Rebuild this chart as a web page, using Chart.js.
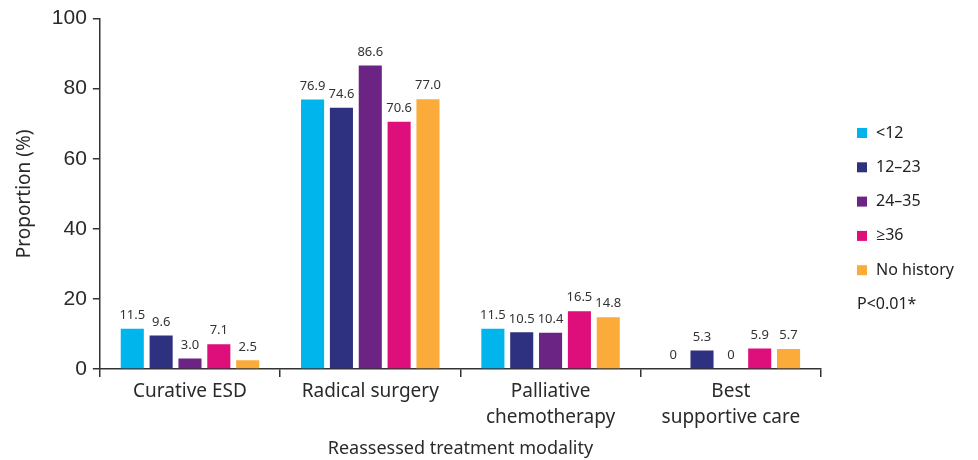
<!DOCTYPE html>
<html>
<head>
<meta charset="utf-8">
<script src="https://cdn.jsdelivr.net/npm/chart.js@4"></script>
<style>
  html, body { margin: 0; padding: 0; background: #fff; }
  #wrap { position: relative; width: 978px; height: 460px; }
</style>
</head>
<body>
<div id="wrap"><canvas id="chart" width="978" height="460"></canvas></div>
<script>
// Treatment categories (x axis)
const categories = [
  "Curative ESD",
  "Radical surgery",
  ["Palliative", "chemotherapy"],
  ["Best", "supportive care"]
];

// Interval groups (months) with their proportions per category
const groups = ["<12", "12\u201323", "24\u201335", "\u226536", "No history"];
const lt12 = [11.5, 76.9, 11.5, 0];
const m12to23 = [9.6, 74.6, 10.5, 5.3];
const m24to35 = [3.0, 86.6, 10.4, 0];
const ge36 = [7.1, 70.6, 16.5, 5.9];
const noHistory = [2.5, 77.0, 14.8, 5.7];

const yTicks = [0, 20, 40, 60, 80, 100];
const pValueText = "P<0.01*";

const colors = ["#00b5eb", "#2e3180", "#6b2384", "#de0e7a", "#fbab3a"];
const seriesValues = [lt12, m12to23, m24to35, ge36, noHistory];

const fontMain = "'Noto Sans', 'Open Sans', sans-serif";
const fontNum = "'Liberation Sans', Arial, sans-serif";

// Value labels above each bar
const barLabels = {
  id: "barLabels",
  afterDatasetsDraw(chart) {
    const ctx = chart.ctx;
    ctx.save();
    ctx.font = "13px " + fontMain;
    ctx.fillStyle = "#333";
    ctx.textAlign = "center";
    ctx.textBaseline = "bottom";
    chart.data.datasets.forEach((ds, i) => {
      const meta = chart.getDatasetMeta(i);
      meta.data.forEach((bar, j) => {
        const v = ds.data[j];
        const txt = v === 0 ? "0" : v.toFixed(1);
        ctx.fillText(txt, bar.x, bar.y - 7);
      });
    });
    ctx.restore();
  }
};

// Legend on the right plus the p-value note
const sideLegend = {
  id: "sideLegend",
  afterDraw(chart) {
    const ctx = chart.ctx;
    const x0 = chart.chartArea.right + 36;
    const y0 = 133;
    const step = 34.3;
    ctx.save();
    ctx.font = "16px " + fontMain;
    ctx.textBaseline = "middle";
    ctx.textAlign = "left";
    chart.data.datasets.forEach((ds, i) => {
      const y = y0 + i * step;
      ctx.fillStyle = ds.backgroundColor;
      ctx.fillRect(x0, y - 5, 10, 10);
      ctx.fillStyle = "#222";
      ctx.fillText(ds.label, x0 + 19, y);
    });
    ctx.fillText(pValueText, x0, y0 + groups.length * step);
    ctx.restore();
  }
};

new Chart(document.getElementById("chart"), {
  type: "bar",
  data: {
    labels: categories,
    datasets: groups.map((g, i) => ({
      label: g,
      data: seriesValues[i],
      backgroundColor: colors[i],
      borderWidth: 0,
      categoryPercentage: 0.8,
      barPercentage: 0.8
    }))
  },
  plugins: [barLabels, sideLegend],
  options: {
    responsive: false,
    animation: false,
    layout: { padding: { top: 12, right: 157, left: 9, bottom: 0 } },
    plugins: {
      legend: { display: false },
      tooltip: { enabled: false }
    },
    scales: {
      x: {
        offset: true,
        grid: {
          offset: true,
          drawOnChartArea: false,
          drawTicks: true,
          tickLength: 8,
          color: "#333",
          lineWidth: 1.5
        },
        border: { color: "#333", width: 1.5 },
        ticks: {
          color: "#2a2a2a",
          font: { family: fontMain, size: 19, lineHeight: 1.35 },
          padding: 2,
          maxRotation: 0
        },
        title: {
          display: true,
          text: "Reassessed treatment modality",
          color: "#2a2a2a",
          font: { family: fontMain, size: 18 },
          padding: { top: 6, bottom: 0 }
        }
      },
      y: {
        min: 0,
        max: 100,
        afterBuildTicks(axis) {
          axis.ticks = yTicks.map(v => ({ value: v }));
        },
        grid: {
          drawOnChartArea: false,
          drawTicks: true,
          tickLength: 7,
          color: "#333",
          lineWidth: 1.5
        },
        border: { color: "#333", width: 1.5 },
        ticks: {
          color: "#2a2a2a",
          font: { family: fontNum, size: 21 },
          padding: 6
        },
        title: {
          display: true,
          text: "Proportion (%)",
          color: "#2a2a2a",
          font: { family: fontMain, size: 19 },
          padding: { bottom: 10 }
        }
      }
    }
  }
});
</script>
</body>
</html>
